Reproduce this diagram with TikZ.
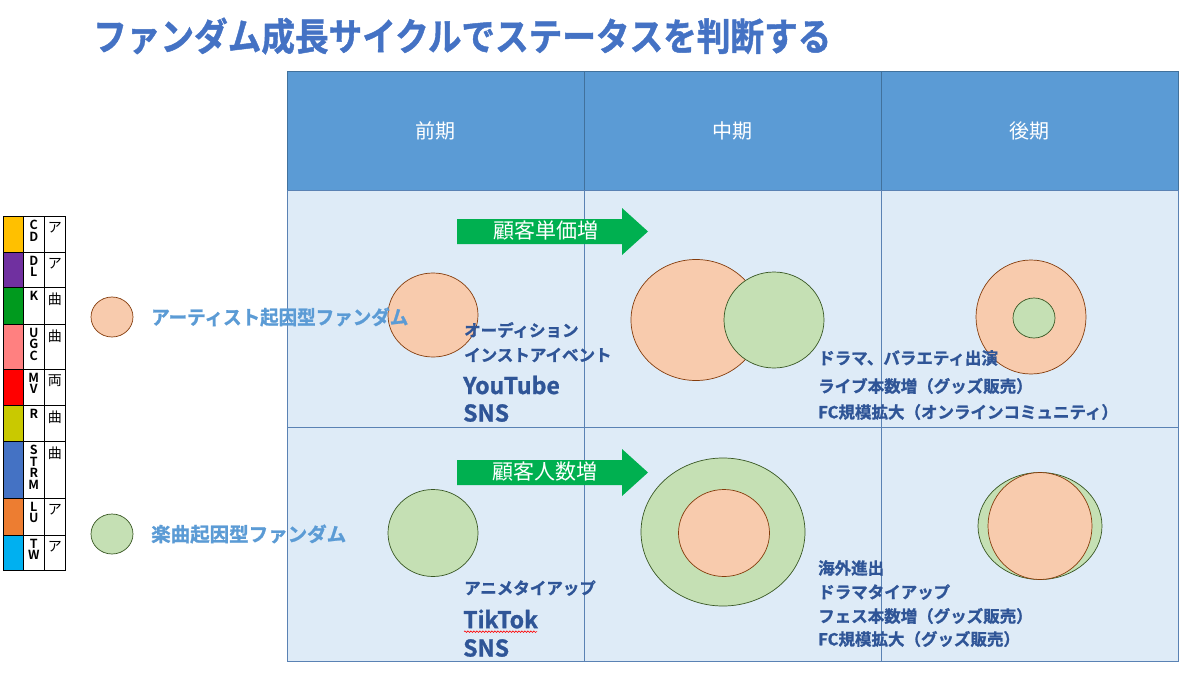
\documentclass[tikz,border=0pt]{standalone}
\usepackage{fontspec}
\newfontfamily\jp{Noto Sans CJK JP}[BoldFont={Noto Sans CJK JP Bold}]
\newfontfamily\jpheavy{Noto Sans CJK JP Bold}[FakeBold=1.2]
\usetikzlibrary{shapes.geometric,decorations.pathmorphing}
\newcommand{\myfs}[1]{\fontsize{#1}{#1}\selectfont}
\definecolor{hdrfill}{HTML}{5B9BD5}
\definecolor{hdrline}{HTML}{41719C}
\definecolor{cellfill}{HTML}{DEEBF7}
\definecolor{cellline}{HTML}{5A82B4}
\definecolor{orfill}{HTML}{F8CBAD}
\definecolor{orline}{HTML}{843C0C}
\definecolor{grfill}{HTML}{C5E0B4}
\definecolor{grline}{HTML}{385723}
\definecolor{arrowgreen}{HTML}{00B050}
\definecolor{titleblue}{HTML}{4472C4}
\definecolor{labelblue}{HTML}{5B9BD5}
\definecolor{bodytxt}{HTML}{2F5597}
\definecolor{cCD}{HTML}{FFC000}
\definecolor{cDL}{HTML}{7030A0}
\definecolor{cK}{HTML}{009A1E}
\definecolor{cUGC}{HTML}{FF8080}
\definecolor{cMV}{HTML}{FF0000}
\definecolor{cR}{HTML}{C9C900}
\definecolor{cSTRM}{HTML}{4472C4}
\definecolor{cLU}{HTML}{ED7D31}
\definecolor{cTW}{HTML}{00B0F0}
\begin{document}
\begin{tikzpicture}[x=1pt,y=-1pt,
  hdr/.style={draw=hdrline, fill=hdrfill, line width=0.8pt, text=white, font=\jp\myfs{20}, anchor=north west, inner sep=0, minimum width=297, minimum height=119},
  cell/.style={draw=cellline, fill=cellfill, line width=0.8pt, anchor=north west, inner sep=0, minimum width=297},
  orc/.style={ellipse, draw=orline, fill=orfill, line width=0.7pt, inner sep=0},
  grc/.style={ellipse, draw=grline, fill=grfill, line width=0.7pt, inner sep=0},
  bodytext/.style={anchor=west, text=bodytxt, font=\jpheavy\myfs{16.5}, inner sep=0},
  bigtext/.style={anchor=west, text=bodytxt, font=\jpheavy\myfs{23}, inner sep=0},
  legendlabel/.style={anchor=west, text=labelblue, font=\jpheavy\myfs{19.5}, inner sep=0},
  arrowtext/.style={text=white, font=\jp\myfs{21}, inner sep=0},
  swatch/.style={draw=black, line width=0.6pt, anchor=north west, inner sep=0, minimum width=20},
  keycell/.style={draw=black, line width=0.6pt, fill=white, anchor=north west, inner sep=0, minimum width=21},
  keyletters/.style={anchor=north, font=\jp\bfseries\fontsize{12.5}{11.5}\selectfont, align=center, inner sep=0},
  keykana/.style={anchor=north, font=\jp\myfs{14}, inner sep=0}
]
\useasboundingbox (0,0) rectangle (1200,675);
\fill[white] (0,0) rectangle (1200,675);

% title
\node[anchor=west, text=titleblue, font=\jpheavy\myfs{38}, inner sep=0] (title) at (93,36)
  {\scalebox{0.885}[1]{ファンダム成長サイクルでステータスを判断する}};

% table header
\node[hdr] (h1) at (287,71) {前期};
\node[hdr] (h2) at (584,71) {中期};
\node[hdr] (h3) at (881,71) {後期};
% body cells
\node[cell, minimum height=237] (b11) at (287,190) {};
\node[cell, minimum height=237] (b12) at (584,190) {};
\node[cell, minimum height=237] (b13) at (881,190) {};
\node[cell, minimum height=234] (b21) at (287,427) {};
\node[cell, minimum height=234] (b22) at (584,427) {};
\node[cell, minimum height=234] (b23) at (881,427) {};

% arrows
\fill[arrowgreen] (457,219) -- (622,219) -- (622,208) -- (648,231.5) -- (622,255) -- (622,244) -- (457,244) -- cycle;
\node[arrowtext] (arr1) at (546,231) {顧客単価増};
\fill[arrowgreen] (457,460) -- (622,460) -- (622,449) -- (648,472.5) -- (622,496) -- (622,485) -- (457,485) -- cycle;
\node[arrowtext] (arr2) at (545,472) {顧客人数増};

% legend circles
\node[orc, minimum width=42, minimum height=40] (lo) at (112,317) {};
\node[grc, minimum width=42, minimum height=40] (lg) at (112,534) {};

% row 1 circles
\node[orc, minimum width=90, minimum height=84] (a1) at (433,315) {};
\node[orc, minimum width=130, minimum height=121] (a2o) at (696,320) {};
\node[grc, minimum width=100, minimum height=96] (a2g) at (774,320) {};
\node[orc, minimum width=110, minimum height=114] (a3o) at (1031,317) {};
\node[grc, minimum width=42, minimum height=40] (a3g) at (1034,318) {};

% row 2 circles
\node[grc, minimum width=90, minimum height=87] (m1) at (433,533) {};
\node[grc, minimum width=164, minimum height=148] (m2g) at (723,532) {};
\node[orc, minimum width=91, minimum height=87] (m2o) at (724,533) {};
\node[grc, minimum width=124, minimum height=107] (m3g) at (1040,526) {};
\node[orc, minimum width=104, minimum height=107] (m3o) at (1040,526) {};

% legend labels
\node[legendlabel] (ll1) at (151,317) {\scalebox{0.95}[1]{アーティスト起因型ファンダム}};
\node[legendlabel] (ll2) at (151,534) {楽曲起因型ファンダム};

% row 1 texts
\node[bodytext] (t1) at (464,330) {オーディション};
\node[bodytext] (t2) at (464,355) {インストアイベント};
\node[bigtext] (t3) at (463,385) {YouTube};
\node[bigtext] (t4) at (463,413) {SNS};
\node[bodytext] (t5) at (818,358) {ドラマ、バラエティ出演};
\node[bodytext] (t6) at (818,386) {ライブ本数増（グッズ販売）};
\node[bodytext] (t7) at (818,412) {FC規模拡大（オンラインコミュニティ）};

% row 2 texts
\node[bodytext] (u1) at (464,588) {アニメタイアップ};
\node[bigtext] (u2) at (463,619) {TikTok};
\node[bigtext] (u3) at (463,648) {SNS};
\draw[red, line width=0.6pt, decorate, decoration={snake, amplitude=0.8pt, segment length=3pt}] ([xshift=1pt,yshift=-3pt]u2.south west) -- ([xshift=-1pt,yshift=-3pt]u2.south east);
\node[bodytext] (u4) at (818,568) {海外進出};
\node[bodytext] (u5) at (818,592) {ドラマタイアップ};
\node[bodytext] (u6) at (818,616) {フェス本数増（グッズ販売）};
\node[bodytext] (u7) at (818,639) {FC規模拡大（グッズ販売）};

% key table
\foreach \nm/\col/\ty/\hh/\ltr/\kana in {CD/cCD/216/36/C\\D/ア, DL/cDL/252/35/D\\L/ア, K/cK/287/37/K/曲, UGC/cUGC/324/45/U\\G\\C/曲, MV/cMV/369/36/M\\V/両, R/cR/405/36/R/曲, STRM/cSTRM/441/57/S\\T\\R\\M/曲, LU/cLU/498/37/L\\U/ア, TW/cTW/535/35/T\\W/ア}{
  \node[swatch, fill=\col, minimum height=\hh] (sw\nm) at (3,\ty) {};
  \node[keycell, minimum height=\hh] (kl\nm) at (23,\ty) {};
  \node[keycell, minimum height=\hh] (kk\nm) at (44,\ty) {};
  \node[keyletters] (lt\nm) at ([yshift=-4pt]kl\nm.north) {\ltr};
  \node[keykana] (ka\nm) at ([yshift=-6pt]kk\nm.north) {\kana};
}
\end{tikzpicture}
\end{document}
